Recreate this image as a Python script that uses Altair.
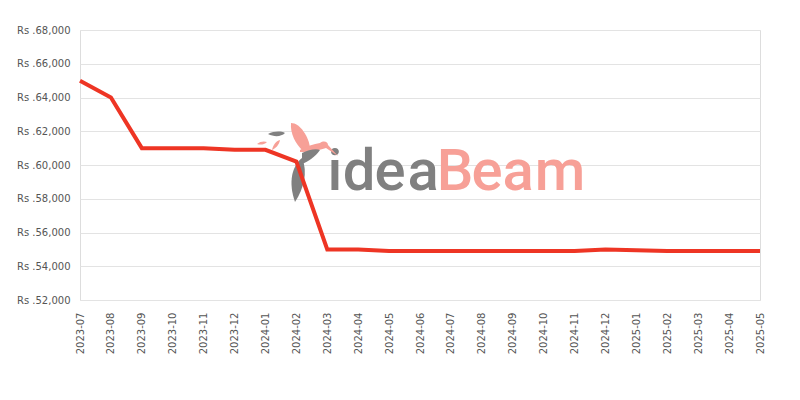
import altair as alt
import pandas as pd

months = ["2023-07", "2023-08", "2023-09", "2023-10", "2023-11", "2023-12",
          "2024-01", "2024-02", "2024-03", "2024-04", "2024-05", "2024-06",
          "2024-07", "2024-08", "2024-09", "2024-10", "2024-11", "2024-12",
          "2025-01", "2025-02", "2025-03", "2025-04", "2025-05"]
prices = [64999, 63999, 60999, 60999, 60999, 60899,
          60899, 60199, 54999, 54999, 54899, 54899,
          54899, 54899, 54899, 54899, 54899, 54999,
          54949, 54899, 54899, 54899, 54899]
y_ticks = [52000, 54000, 56000, 58000, 60000, 62000, 64000, 66000, 68000]

df = pd.DataFrame({"month": months, "price": prices})

x_enc = alt.X("month:O", title=None,
              scale=alt.Scale(type="point", padding=0),
              axis=alt.Axis(labelAngle=-90, ticks=False, domain=False, grid=False,
                            labelPadding=12, labelFont="DejaVu Sans", labelFontSize=10,
                            labelColor="#555555"))
y_enc = alt.Y("price:Q", title=None,
              scale=alt.Scale(domain=[52000, 68000], nice=False, zero=False),
              axis=alt.Axis(values=y_ticks, ticks=False, domain=False, grid=True,
                            gridColor="#e3e3e3", labelPadding=10,
                            labelFont="DejaVu Sans", labelFontSize=10, labelColor="#555555",
                            labelExpr="'Rs .' + format(datum.value, ',')"))

line = alt.Chart(df).mark_line(color="#ee3524", strokeWidth=4).encode(x=x_enc, y=y_enc)

# watermark logo (decoration)
GRAY = "#808080"
SALMON = "#f7a097"
logo_letters = [("i", 255, GRAY), ("d", 279, GRAY), ("e", 310, GRAY), ("a", 343, GRAY),
                ("B", 375, SALMON), ("e", 407, SALMON), ("a", 438, SALMON), ("m", 480, SALMON)]
layers = []
for ch, cx, col in logo_letters:
    layers.append(alt.Chart(pd.DataFrame({"t": [ch]})).mark_text(
        font="Roboto", fontSize=58, fontWeight=500, color=col, align="center",
        baseline="alphabetic").encode(x=alt.value(cx), y=alt.value(160), text="t:N"))

bird_parts = [
    ("M -9,-27 C 0,-27 9,-13 10,-2 L 2,0 C -4,-6 -10,-16 -9,-27 Z", SALMON),
    ("M 0,0 C 6,-4 14,-6 20,-7 C 24,-10 28,-8 28,-5 L 38,6 L 26,-2 C 20,0 10,2 0,2 Z", SALMON),
    ("M -43,-6 C -40,-9 -35,-9 -33,-8 C -36,-5 -40,-5 -43,-6 Z", SALMON),
    ("M -28,0 C -27,-5 -24,-9 -20,-10 C -21,-5 -24,-2 -28,0 Z", SALMON),
    ("M 2,3 C 8,0 16,-2 20,0 C 16,6 8,12 2,14 Z", GRAY),
    ("M 2,8 C -8,16 -12,32 -5,52 C 4,38 8,22 2,8 Z", GRAY),
    ("M -32,-16 C -26,-19 -19,-19 -15,-17 C -19,-13 -26,-13 -32,-16 Z", GRAY),
]
for path, col in bird_parts:
    layers.append(alt.Chart(pd.DataFrame({"k": [0]})).mark_point(
        shape=path, filled=True, fill=col, color=col, strokeWidth=0, opacity=1, size=4
    ).encode(x=alt.value(220), y=alt.value(120)))

chart = alt.layer(*layers, line).properties(
    width=680, height=270,
    autosize=alt.AutoSizeParams(type="none"),
    padding={"left": 72, "top": 22, "right": 32, "bottom": 92},
).configure_view(stroke="#d9d9d9", strokeWidth=1).configure(background="white")

chart.save("out.html", embed_options={"renderer": "svg", "actions": False})
